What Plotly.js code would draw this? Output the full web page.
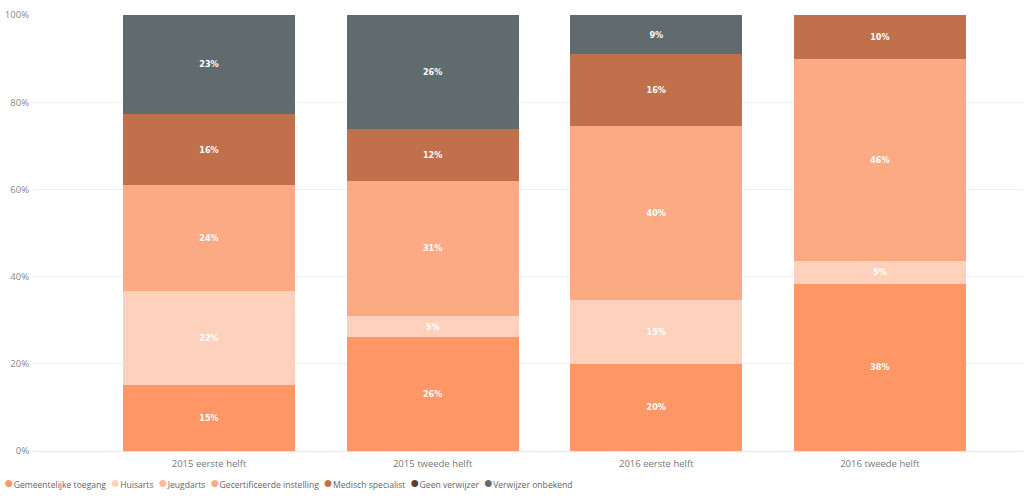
<!DOCTYPE html>
<html>
<head>
<meta charset="utf-8">
<script src="https://cdn.plot.ly/plotly-3.0.1.min.js"></script>
<style>html,body{margin:0;padding:0;background:#fff;}#chart{width:1024px;height:497px;}</style>
</head>
<body>
<div id="chart"></div>
<script>
var categories = ["2015 eerste helft", "2015 tweede helft", "2016 eerste helft", "2016 tweede helft"];
var seriesNames = ["Gemeentelijke toegang", "Huisarts", "Jeugdarts", "Gecertificeerde instelling", "Medisch specialist", "Geen verwijzer", "Verwijzer onbekend"];
var gemeentelijkeToegang = [15.2, 26.1, 20.0, 38.4];
var huisarts = [21.6, 4.9, 14.7, 5.1];
var jeugdarts = [0, 0, 0, 0];
var gecertificeerdeInstelling = [24.1, 30.9, 39.9, 46.4];
var medischSpecialist = [16.4, 12.0, 16.4, 10.1];
var geenVerwijzer = [0, 0, 0, 0];
var verwijzerOnbekend = [22.7, 26.1, 9.0, 0];
var yTickValues = [0, 20, 40, 60, 80, 100];

var seriesValues = [gemeentelijkeToegang, huisarts, jeugdarts, gecertificeerdeInstelling, medischSpecialist, geenVerwijzer, verwijzerOnbekend];
var colors = ["#FE9666", "#FDD1BB", "#FDBB98", "#FCAA83", "#C0704A", "#6B3828", "#5F6B6D"];

var traces = seriesValues.map(function (vals, i) {
  return {
    type: "bar",
    name: seriesNames[i],
    x: categories,
    y: vals,
    marker: {color: colors[i], line: {width: 0}},
    text: vals.map(function (v) { return v > 0 ? Math.round(v) + "%" : ""; }),
    textposition: "inside",
    insidetextanchor: "middle",
    textangle: 0,
    constraintext: "none",
    textfont: {family: "DejaVu Sans Condensed", size: 9, color: "#ffffff", weight: "bold"},
    hoverinfo: "name+y",
    showlegend: false
  };
});

var legendText = seriesNames.map(function (n, i) {
  return '<span style="color:' + colors[i] + ';font-size:16px">●</span>' + n;
}).join("&nbsp;&nbsp;");

var layout = {
  width: 1024,
  height: 497,
  barmode: "stack",
  bargap: 0.231,
  paper_bgcolor: "#ffffff",
  plot_bgcolor: "#ffffff",
  margin: {l: 33, r: 1, t: 15, b: 46, pad: 0},
  font: {family: "Open Sans", color: "#777777", size: 9},
  xaxis: {
    type: "category",
    range: [-0.787, 3.64],
    showgrid: false,
    showline: true,
    linecolor: "#E6E6E6",
    linewidth: 1,
    ticks: "",
    ticklabelstandoff: 4,
    tickfont: {family: "Open Sans", size: 9.5, color: "#777777"},
    fixedrange: true
  },
  yaxis: {
    range: [0, 100],
    tickvals: yTickValues,
    ticktext: yTickValues.map(function (v) { return v + "%"; }),
    showgrid: true,
    gridcolor: "#F0F0F0",
    gridwidth: 1,
    zeroline: false,
    showline: false,
    ticks: "",
    ticklabelstandoff: 3,
    tickfont: {family: "Open Sans", size: 9.5, color: "#888888"},
    fixedrange: true
  },
  showlegend: false,
  annotations: [{
    xref: "paper", yref: "paper",
    x: -31 / 990, y: -31 / 436,
    xanchor: "left", yanchor: "middle",
    showarrow: false,
    align: "left",
    text: legendText,
    font: {family: "Open Sans", size: 8.6, color: "#666666"}
  }]
};

Plotly.newPlot("chart", traces, layout, {displayModeBar: false, staticPlot: true});
</script>
</body>
</html>
